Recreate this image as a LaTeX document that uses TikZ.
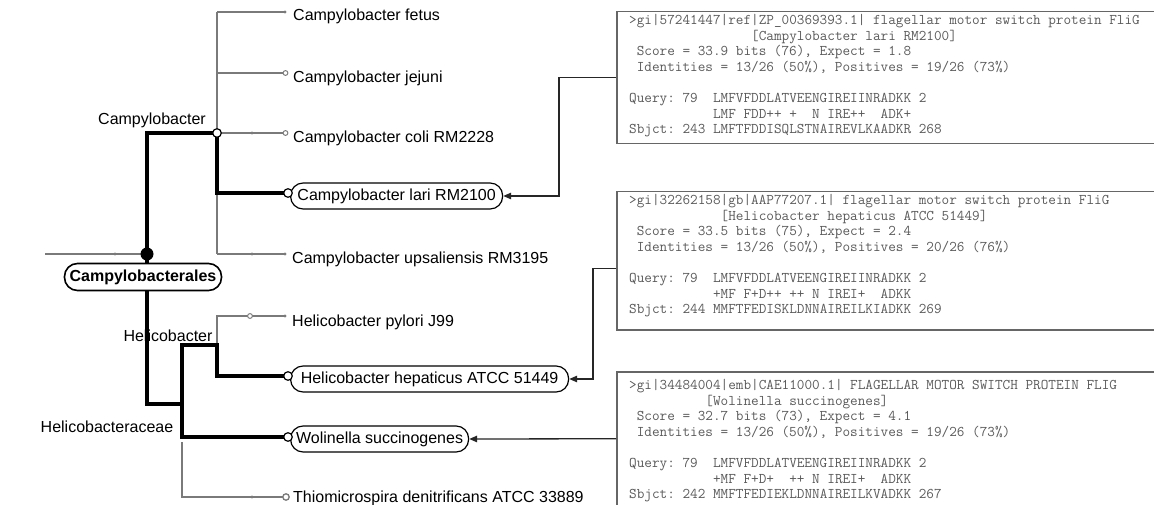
\documentclass[tikz,border=0pt]{standalone}
\usepackage{fontspec}
\setmainfont{Liberation Sans}
\usetikzlibrary{arrows.meta}
\definecolor{twigc}{HTML}{7A7A7A}
\definecolor{boxtext}{HTML}{5A5A5A}
\definecolor{boxline}{HTML}{666666}
\newcommand{\spc}[1]{\hspace*{#1\fontcharwd\font`\x}}
\begin{document}
\begin{tikzpicture}[x=1pt,y=-1pt,
  twig/.style={draw=twigc, line width=1.3pt},
  trunk/.style={draw=black, line width=4.6pt},
  leaf/.style={anchor=base west, inner sep=0pt, font=\fontsize{16}{19}\selectfont},
  lbl/.style={inner sep=0pt, font=\fontsize{16}{19}\selectfont},
  sel/.style={anchor=west, draw=black, fill=white, line width=1.2pt, rounded corners=12.5pt,
    minimum height=26pt, inner xsep=0pt, inner ysep=0pt, font=\fontsize{16}{19}\selectfont},
  order/.style={draw=black, fill=white, line width=1.6pt, rounded corners=13pt,
    minimum height=27pt, minimum width=157pt, inner sep=0pt, font=\bfseries\fontsize{16}{19}\selectfont},
  dotm/.style={fill=twigc},
  ringm/.style={draw=twigc, fill=white, line width=1pt},
  bigring/.style={draw=black, fill=white, line width=1.2pt},
  blastbox/.style={anchor=north west, draw=boxline, fill=white, line width=1.5pt,
    minimum width=600pt, inner sep=0pt},
  btext/.style={anchor=north west, align=left, inner sep=0pt, text=boxtext,
    font=\ttfamily\frenchspacing\fontsize{14.8}{15.6}\selectfont},
  conn/.style={draw=black!85, line width=1.3pt, -{Triangle[length=8pt,width=6.5pt]}}
]
\clip (0,0) rectangle (1154,505);
\fill[white] (0,0) rectangle (1154,505);

% internal node coordinates
\coordinate (root) at (45,254);
\coordinate (nA) at (147,254);
\coordinate (nC) at (217,133);
\coordinate (nCtop) at (217,12);
\coordinate (nCbot) at (217,254);
\coordinate (nH) at (182,404);
\coordinate (nHt) at (182,345);
\coordinate (nHh) at (217,345);
\coordinate (nHb) at (182,437);

% labels
\node[lbl] (lC) at (152,120) {Campylobacter};
\node[lbl] (lH) at (168,336) {Helicobacter};
\node[lbl] (lHa) at (107,427) {Helicobacteraceae};

% leaves
\node[leaf] (fetus) at (293,20.5) {Campylobacter fetus};
\node[leaf] (jejuni) at (293,82.5) {Campylobacter jejuni};
\node[leaf] (coli) at (293,142.5) {Campylobacter coli RM2228};
\node[sel, minimum width=212pt] (lari) at (290,196) {Campylobacter lari RM2100};
\node[leaf] (upsa) at (292,263) {Campylobacter upsaliensis RM3195};
\node[leaf] (pylori) at (292,326) {Helicobacter pylori J99};
\node[sel, minimum width=278pt] (hep) at (290,379) {Helicobacter hepaticus ATCC 51449};
\node[sel, minimum width=178pt] (wol) at (290,439) {Wolinella succinogenes};
\node[leaf] (thio) at (293,502.5) {Thiomicrospira denitrificans ATCC 33889};

% thin branches
\draw[twig] (root) -- (nA);
\fill[dotm] (115,254) circle (1.6);
\draw[twig] (nCtop) -- (nCbot);
\draw[twig] (nCtop) -- (285,12);
\fill[dotm] (285,12) circle (1.6);
\draw[twig] (217,73) -- (283,73);
\draw[ringm] (285.5,73) circle (2.4);
\draw[twig] (nC) -- (283,133);
\fill[dotm] (252,133) circle (1.6);
\draw[ringm] (285.5,133) circle (2.4);
\draw[twig] (nCbot) -- (285,254);
\fill[dotm] (252,254) circle (1.6);
\fill[dotm] (285,254) circle (1.6);
\draw[twig] (nHh) -- (217,316) -- (285,316);
\draw[ringm] (250,316) circle (2.4);
\fill[dotm] (285,316) circle (1.6);
\draw[twig] (182,442) -- (182,497) -- (283,497);
\fill[dotm] (252,497) circle (1.6);
\draw[ringm, line width=1.3pt] (286,497) circle (3.2);

% thick branches
\draw[trunk] (287,193) -- (nC |- 0,193) -- (nC) -- (147,133) -- (nA) -- (147,404) -- (nH);
\draw[trunk] (287,376) -- (217,376) -- (nHh) -- (nHt) -- (nHb) -- (287,437);
\fill[black] (nA) circle (6.5);
\draw[bigring] (nC) circle (4.3);
\draw[bigring] (288,193) circle (4.3);
\draw[bigring] (288,376) circle (4.3);
\draw[bigring] (288,437) circle (4.3);

\node[order] (ord) at (143,277) {Campylobacterales};

% BLAST boxes
\node[blastbox, minimum height=132pt] (box1) at (616,11) {};
\node[btext] (t1) at ([xshift=13pt,yshift=-3pt]box1.north west) {%
>gi|57241447|ref|ZP\_00369393.1| flagellar motor switch protein FliG\\
\spc{16}[Campylobacter lari RM2100]\\
\spc{1}Score = 33.9 bits (76), Expect = 1.8\\
\spc{1}Identities = 13/26 (50\%), Positives = 19/26 (73\%)\\
\mbox{}\\
Query: 79\spc{2}LMFVFDDLATVEENGIREIINRADKK 2\\
\spc{11}LMF FDD++ +\spc{2}N IRE++\spc{2}ADK+\\
Sbjct: 243 LMFTFDDISQLSTNAIREVLKAADKR 268};

\node[blastbox, minimum height=138pt] (box2) at (616,191) {};
\node[btext] (t2) at ([xshift=13pt,yshift=-3pt]box2.north west) {%
>gi|32262158|gb|AAP77207.1| flagellar motor switch protein FliG\\
\spc{12}[Helicobacter hepaticus ATCC 51449]\\
\spc{1}Score = 33.5 bits (75), Expect = 2.4\\
\spc{1}Identities = 13/26 (50\%), Positives = 20/26 (76\%)\\
\mbox{}\\
Query: 79\spc{2}LMFVFDDLATVEENGIREIINRADKK 2\\
\spc{11}+MF F+D++ ++ N IREI+\spc{2}ADKK\\
Sbjct: 244 MMFTFEDISKLDNNAIREILKIADKK 269};

\node[blastbox, minimum height=160pt] (box3) at (616,371) {};
\node[btext] (t3) at ([xshift=13pt,yshift=-8pt]box3.north west) {%
>gi|34484004|emb|CAE11000.1| FLAGELLAR MOTOR SWITCH PROTEIN FLIG\\
\spc{10}[Wolinella succinogenes]\\
\spc{1}Score = 32.7 bits (73), Expect = 4.1\\
\spc{1}Identities = 13/26 (50\%), Positives = 19/26 (73\%)\\
\mbox{}\\
Query: 79\spc{2}LMFVFDDLATVEENGIREIINRADKK 2\\
\spc{11}+MF F+D+\spc{2}++ N IREI+\spc{2}ADKK\\
Sbjct: 242 MMFTFEDIEKLDNNAIREILKVADKK 267};

% connectors
\draw[conn] (box1.west) -- ++(-57,0) |- (lari.east);
\draw[conn] ([yshift=-8pt]box2.west) -- ++(-23,0) |- (hep.east);
\draw[conn] ([yshift=13pt]box3.west) -- (wol.east);
\end{tikzpicture}
\end{document}
